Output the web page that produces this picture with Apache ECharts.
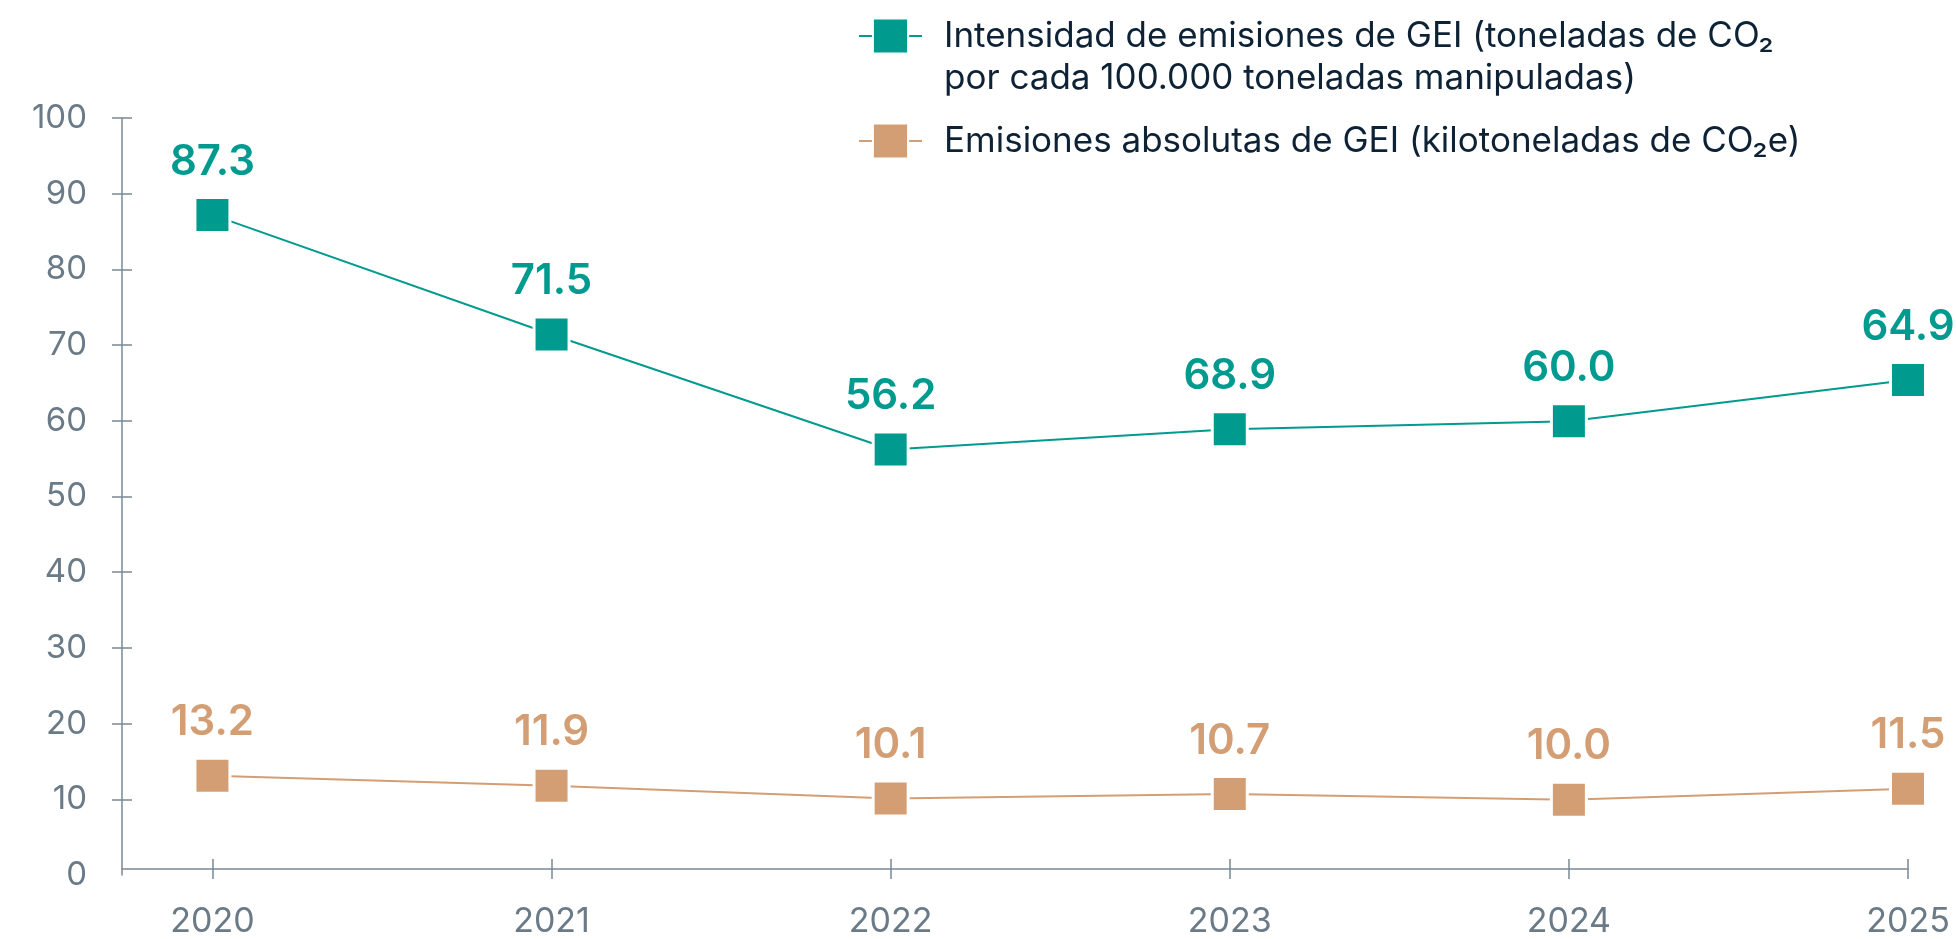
<!DOCTYPE html>
<html>
<head>
<meta charset="utf-8">
<script src="https://cdn.jsdelivr.net/npm/echarts@6/dist/echarts.min.js"></script>
<style>
  html, body { margin: 0; padding: 0; background: #fff; }
  #chart { width: 1956px; height: 939px; }
</style>
</head>
<body>
<div id="chart"></div>
<script>
// data
const years = [2020, 2021, 2022, 2023, 2024, 2025];
const intensityValues = [87.2, 71.4, 56.2, 58.9, 59.95, 65.4];
const intensityLabels = ['87.3', '71.5', '56.2', '68.9', '60.0', '64.9'];
const absoluteValues = [13.1, 11.8, 10.1, 10.7, 9.95, 11.4];
const absoluteLabels = ['13.2', '11.9', '10.1', '10.7', '10.0', '11.5'];
const yTicks = [10, 20, 30, 40, 50, 60, 70, 80, 90, 100];

const intensityName = 'Intensidad de emisiones de GEI (toneladas de CO₂\npor cada 100.000 toneladas manipuladas)';
const absoluteName = 'Emisiones absolutas de GEI (kilotoneladas de CO₂e)';

const teal = '#009A8F';
const sand = '#D49E74';
const axisGrey = '#7b8893';
const labelGrey = '#6a7a87';
const font = 'Inter, "Noto Sans", sans-serif';

const chart = echarts.init(document.getElementById('chart'));

function pairs(vals) {
  return years.map((y, i) => [y, vals[i]]);
}

function lineSeries(name, vals, labels, color) {
  return {
    name: name,
    type: 'line',
    data: pairs(vals),
    symbol: 'rect',
    symbolSize: 35,
    lineStyle: { color: color, width: 2 },
    itemStyle: { color: color, borderColor: '#fff', borderWidth: 3 },
    label: {
      show: true,
      position: 'top',
      distance: 13,
      color: color,
      fontFamily: font,
      fontSize: 42,
      fontWeight: 600,
      formatter: p => labels[p.dataIndex]
    },
    z: 3
  };
}

const xMin = 2020 - 90.4 / 339;

const option = {
  animation: false,
  textStyle: { fontFamily: font },
  grid: { left: 122, right: 48, top: 118, bottom: 64 },
  legend: {
    orient: 'vertical',
    left: 858,
    top: -27,
    padding: 0,
    itemGap: 21,
    itemWidth: 63,
    itemHeight: 44,
    selectedMode: false,
    // the empty first line keeps the icon level with the first text line
    formatter: name => (name === intensityName ? '\n' + name : name),
    textStyle: {
      color: '#0e2236',
      fontFamily: font,
      fontSize: 35,
      lineHeight: 42,
      padding: [0, 0, 0, 17]
    },
    data: [intensityName, absoluteName]
  },
  xAxis: [
    {
      type: 'value',
      min: xMin,
      max: 2025,
      offset: -6,
      axisLine: { onZero: false, lineStyle: { color: axisGrey, width: 1.5 } },
      axisTick: { length: 10, customValues: years, lineStyle: { color: axisGrey, width: 1.5 } },
      axisLabel: {
        customValues: years,
        margin: 36,
        color: labelGrey,
        fontFamily: font,
        fontSize: 34,
        formatter: v => String(v)
      },
      splitLine: { show: false }
    },
    {
      type: 'value',
      min: xMin,
      max: 2025,
      position: 'bottom',
      offset: -6,
      axisLine: { show: false, onZero: false },
      axisTick: { inside: true, length: 10, customValues: years, lineStyle: { color: axisGrey, width: 1.5 } },
      axisLabel: { show: false },
      splitLine: { show: false }
    }
  ],
  yAxis: [
    {
      type: 'value',
      min: 0,
      max: 100,
      interval: 10,
      axisLine: { show: true, onZero: false, lineStyle: { color: axisGrey, width: 1.5 } },
      axisTick: { show: true, length: 10, customValues: yTicks, lineStyle: { color: axisGrey, width: 1.5 } },
      axisLabel: { margin: 35, color: labelGrey, fontFamily: font, fontSize: 33 },
      splitLine: { show: false }
    },
    {
      type: 'value',
      min: 0,
      max: 100,
      interval: 10,
      position: 'left',
      axisLine: { show: false, onZero: false },
      axisTick: { show: true, inside: true, length: 10, customValues: yTicks, lineStyle: { color: axisGrey, width: 1.5 } },
      axisLabel: { show: false },
      splitLine: { show: false }
    }
  ],
  series: [
    lineSeries(intensityName, intensityValues, intensityLabels, teal),
    lineSeries(absoluteName, absoluteValues, absoluteLabels, sand)
  ]
};

chart.setOption(option);
</script>
</body>
</html>
